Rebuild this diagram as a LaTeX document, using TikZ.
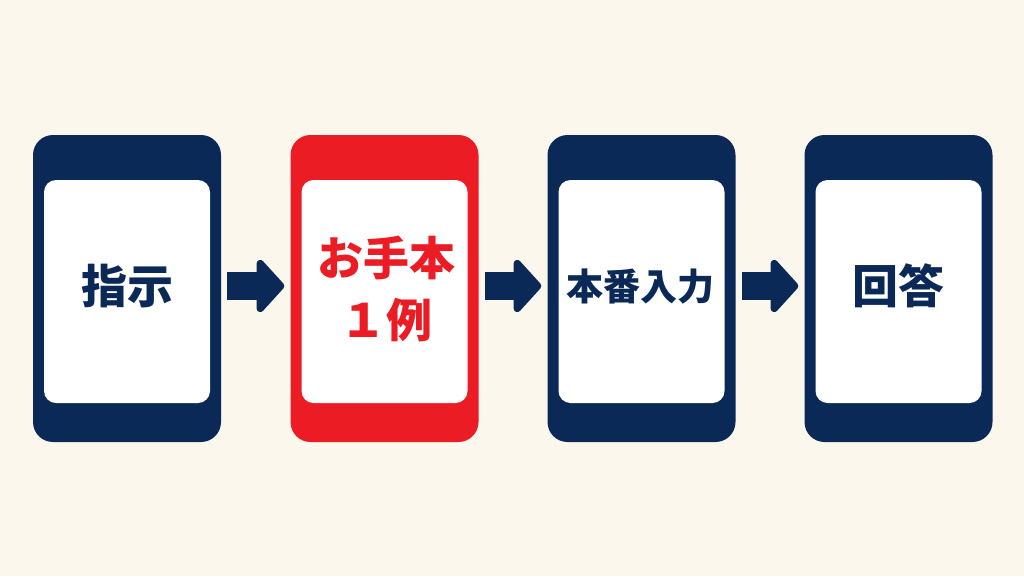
\documentclass[tikz,border=0pt]{standalone}
\usepackage{fontspec}
\newfontfamily\jpfont{Noto Sans CJK JP}
\usetikzlibrary{arrows.meta}
\definecolor{navy}{HTML}{0B2956}
\definecolor{alertred}{HTML}{EC1C24}
\definecolor{cream}{HTML}{FCF7EC}
\begin{document}
\begin{tikzpicture}[x=1pt,y=-1pt,
    phone/.style={rounded corners=20pt,minimum width=188pt,minimum height=307pt,inner sep=0pt},
    screen/.style={fill=white,rounded corners=12pt,minimum width=166pt,minimum height=223pt,inner sep=0pt},
    caption/.style={align=center,inner sep=0pt,font=\jpfont\bfseries\fontsize{46}{62}\selectfont},
    flow/.style={navy,line width=28pt,-{Triangle[width=62pt,length=29pt,round]},shorten <=6pt,shorten >=6pt}]
    \fill[cream] (0,0) rectangle (1024,576);
    \useasboundingbox (0,0) rectangle (1024,576);
    %
    \node[phone,fill=navy] (ph1) at (127,288.5) {};
    \node[screen] (sc1) at (127,291.5) {};
    \node[caption,text=navy] (lb1) at (127,286) {指示};
    %
    \node[phone,fill=alertred] (ph2) at (384.5,288.5) {};
    \node[screen] (sc2) at (384.5,291.5) {};
    \node[caption,text=alertred] (lb2) at (386,289) {お手本\\１例};
    %
    \node[phone,fill=navy] (ph3) at (641.5,288.5) {};
    \node[screen] (sc3) at (641.5,291.5) {};
    \node[caption,text=navy,font=\jpfont\bfseries\fontsize{37}{44}\selectfont] (lb3) at (640,287) {本番入力};
    %
    \node[phone,fill=navy] (ph4) at (898.5,288.5) {};
    \node[screen] (sc4) at (898.5,291.5) {};
    \node[caption,text=navy] (lb4) at (898.5,286) {回答};
    %
    \draw[flow] ([yshift=2.5pt]ph1.east) -- ([yshift=2.5pt]ph2.west);
    \draw[flow] ([yshift=2.5pt]ph2.east) -- ([yshift=2.5pt]ph3.west);
    \draw[flow] ([yshift=2.5pt]ph3.east) -- ([yshift=2.5pt]ph4.west);
\end{tikzpicture}
\end{document}
